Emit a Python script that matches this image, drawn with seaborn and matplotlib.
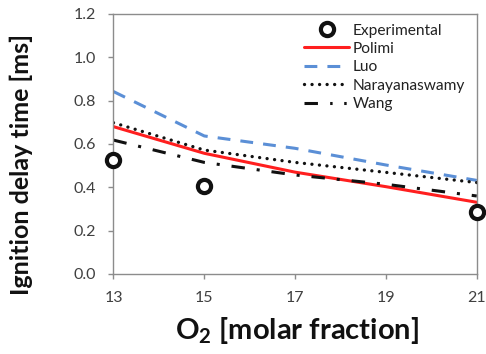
import matplotlib
matplotlib.use("Agg")
import matplotlib.pyplot as plt
import seaborn as sns
import pandas as pd

# O2 molar fraction (%) and ignition delay times (ms)
o2 = [13, 15, 17, 19, 21]
exp_o2 = [13, 15, 21]
exp_delay = [0.526, 0.406, 0.286]
polimi = [0.680, 0.557, 0.470, 0.403, 0.331]
luo = [0.842, 0.637, 0.580, 0.503, 0.432]
narayanaswamy = [0.698, 0.572, 0.515, 0.469, 0.422]
wang = [0.618, 0.515, 0.457, 0.414, 0.360]

y_ticks = [0.0, 0.2, 0.4, 0.6, 0.8, 1.0, 1.2]
x_ticks = [13, 15, 17, 19, 21]

sns.set_style("white")
plt.rcParams["font.family"] = ["Lato", "DejaVu Sans"]
plt.rcParams["mathtext.fontset"] = "custom"
plt.rcParams["mathtext.rm"] = "Lato:bold"
plt.rcParams["mathtext.bf"] = "Lato:bold"

fig = plt.figure(figsize=(4.86, 3.54), dpi=100)
ax = fig.add_axes([0.2335, 0.226, 0.7475, 0.7345])

model_df = pd.DataFrame({"o2": o2, "Polimi": polimi, "Luo": luo,
                         "Narayanaswamy": narayanaswamy, "Wang": wang})

LW = 2.2
sns.lineplot(x=exp_o2, y=exp_delay, ax=ax, linestyle="none", marker="o",
             markersize=9.5, markerfacecolor="white", markeredgecolor="#111111",
             markeredgewidth=3.0, label="Experimental", clip_on=False, zorder=5)
sns.lineplot(data=model_df, x="o2", y="Polimi", ax=ax, color="#ff1f1f",
             linewidth=LW, label="Polimi")
sns.lineplot(data=model_df, x="o2", y="Luo", ax=ax, color="#5b8fd6",
             linewidth=LW, label="Luo").lines[-1].set_dashes([4.2, 3.3])
dot_line = sns.lineplot(data=model_df, x="o2", y="Narayanaswamy", ax=ax,
                        color="#111111", linewidth=2.4,
                        label="Narayanaswamy").lines[-1]
dot_line.set_dashes([0.01, 2.25])
dot_line.set_dash_capstyle("round")
wang_line = sns.lineplot(data=model_df, x="o2", y="Wang", ax=ax, color="#111111",
                         linewidth=LW, label="Wang").lines[-1]
wang_line.set_dashes([4.4, 3.9, 1.0, 3.9])

ax.set_xlim(13, 21)
ax.set_ylim(0, 1.2)
ax.set_xticks(x_ticks)
ax.set_yticks(y_ticks)
ax.set_xticklabels([str(v) for v in x_ticks])
ax.set_yticklabels([f"{v:.1f}" for v in y_ticks])

for s in ax.spines.values():
    s.set_color("#8c8c8c")
    s.set_linewidth(1.0)
ax.tick_params(axis="both", which="major", direction="out", length=3.6,
               width=1.0, color="#8c8c8c", labelsize=11.5, labelcolor="#404040",
               left=True, bottom=True)
ax.tick_params(axis="x", pad=8.5)
ax.tick_params(axis="y", pad=9)

ax.set_xlabel("O$_\\mathbf{2}$ [molar fraction]", fontsize=21, fontweight="bold",
              color="#111111", va="top")
ax.xaxis.set_label_coords(0.504, -0.158)
ax.set_ylabel("Ignition delay time [ms]", fontsize=18, fontweight="bold",
              color="#111111")
ax.yaxis.set_label_coords(-0.222, 0.421)

leg = ax.legend(loc="upper right", frameon=False, fontsize=11.2,
                handlelength=2.9, handletextpad=0.2, labelspacing=0.28,
                borderaxespad=0.0, bbox_to_anchor=(0.984, 0.987))
for t in leg.get_texts():
    t.set_color("#222222")
for h in leg.get_lines():
    if h.get_label() == "Narayanaswamy":
        h.set_dash_capstyle("round")
    if h.get_label() == "Wang":
        h.set_dashes([4.4, 4.0, 0.8, 3.8, 0.8, 3.8])

fig.savefig("out.png", dpi=100)
